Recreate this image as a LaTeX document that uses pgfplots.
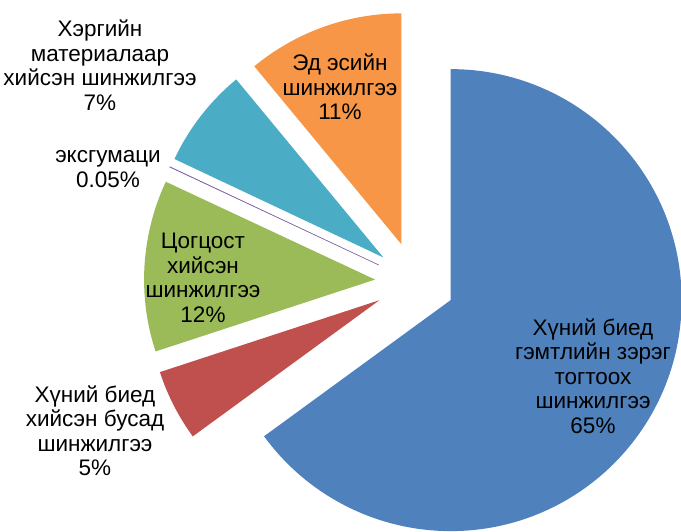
\documentclass[border=0pt]{standalone}
\usepackage{pgfplots}
\usepackage{pgfplotstable}
\pgfplotsset{compat=1.18}
\usepackage{fontspec}
\setmainfont{Liberation Sans}
\definecolor{cBlue}{HTML}{4F81BD}
\definecolor{cRed}{HTML}{C0504D}
\definecolor{cGreen}{HTML}{9BBB59}
\definecolor{cPurple}{HTML}{8064A2}
\definecolor{cTeal}{HTML}{4BACC6}
\definecolor{cOrange}{HTML}{F79646}
\tikzset{lbl/.style={align=center, font=\fontsize{22.5}{24.5}\selectfont, text=black, inner sep=0pt}}

% share of each kind of examination, in %
\pgfplotstableread{
pct
65
5
12
0.05
7
11
}\piedata

\newcommand\pieslice[2]{%
  \fill[#2, shift={(\csname ma#1\endcsname:40pt)}] (axis cs:415,250)
    -- ++(\csname sa#1\endcsname:231pt)
    arc[start angle=\csname sa#1\endcsname, end angle=\csname ea#1\endcsname, radius=231pt]
    -- cycle;}

\begin{document}
\begin{tikzpicture}
% total and cumulative angles (clockwise from 12 o'clock)
\def\total{0}%
\foreach \i in {0,...,5}{%
  \pgfplotstablegetelem{\i}{pct}\of\piedata
  \pgfmathsetmacro\tmp{\total+\pgfplotsretval}%
  \global\let\total\tmp
}%
\def\cum{0}%
\foreach \i in {0,...,5}{%
  \pgfplotstablegetelem{\i}{pct}\of\piedata
  \pgfmathsetmacro\sa{90-\cum/\total*360}%
  \pgfmathsetmacro\newcum{\cum+\pgfplotsretval}%
  \pgfmathsetmacro\ea{90-\newcum/\total*360}%
  \pgfmathsetmacro\ma{(\sa+\ea)/2}%
  \expandafter\xdef\csname sa\i\endcsname{\sa}%
  \expandafter\xdef\csname ea\i\endcsname{\ea}%
  \expandafter\xdef\csname ma\i\endcsname{\ma}%
  \global\let\cum\newcum
}%
\begin{axis}[
  x=1pt, y=1pt, xmin=0, xmax=681, ymin=0, ymax=532,
  hide axis, clip=false,
]
\coordinate (bl) at (axis cs:0,0);
\coordinate (tr) at (axis cs:681,532);
\pieslice{0}{cBlue}
\pieslice{1}{cRed}
\pieslice{2}{cGreen}
\pieslice{3}{cPurple}
\draw[cPurple, line width=0.6pt, shift={(\csname ma3\endcsname:40pt)}] (axis cs:415,250) -- ++(\csname ma3\endcsname:231pt);
\pieslice{4}{cTeal}
\pieslice{5}{cOrange}
\node[lbl] at (axis cs:593,156) {Хүний биед\\гэмтлийн зэрэг\\тогтоох\\шинжилгээ\\65\%};
\node[lbl] at (axis cs:95,101) {Хүний биед\\хийсэн бусад\\шинжилгээ\\5\%};
\node[lbl] at (axis cs:203,254) {Цогцост\\хийсэн\\шинжилгээ\\12\%};
\node[lbl] at (axis cs:108,363) {эксгумаци\\0.05\%};
\node[lbl] at (axis cs:100,467) {Хэргийн\\материалаар\\хийсэн шинжилгээ\\7\%};
\node[lbl] at (axis cs:340,445) {Эд эсийн\\шинжилгээ\\11\%};
\end{axis}
\pgfresetboundingbox
\path[use as bounding box] (bl) rectangle (tr);
\end{tikzpicture}
\end{document}
